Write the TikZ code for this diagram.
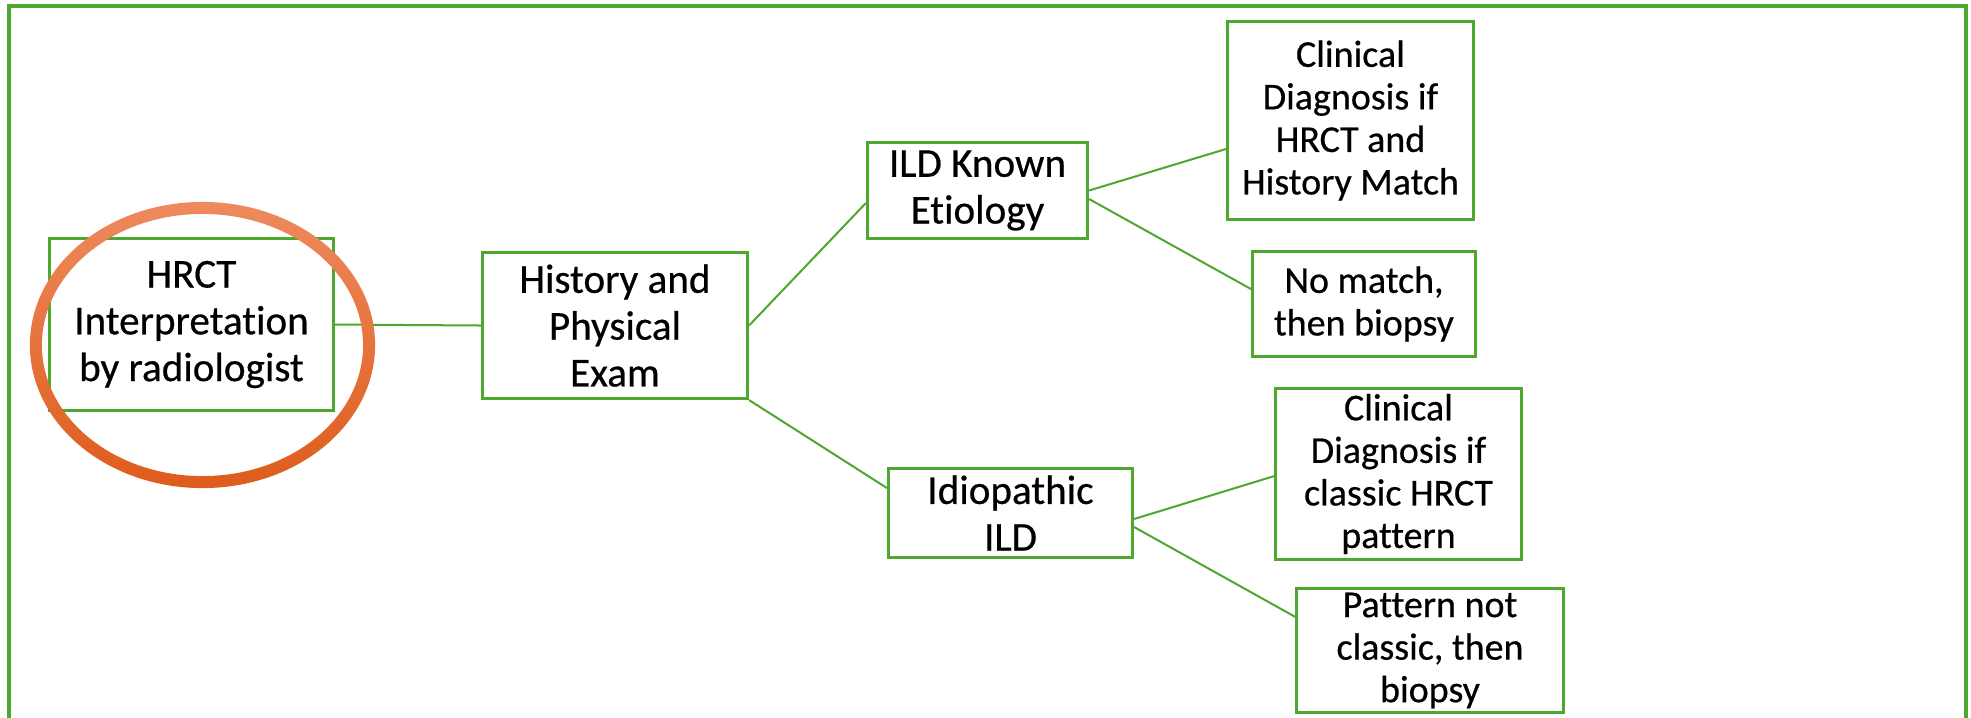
\documentclass[tikz,border=0pt]{standalone}
\usepackage{fontspec}
\setmainfont{Carlito}[Ligatures={NoCommon,NoRare},FakeBold=0.5]
\usetikzlibrary{calc}
\definecolor{grn}{HTML}{4EA72E}
\definecolor{ellTop}{RGB}{238,138,94}
\definecolor{ellMid}{RGB}{240,112,42}
\definecolor{ellBot}{RGB}{222,92,28}
\begin{document}
\begin{tikzpicture}[x=0.01cm,y=-0.01cm,
  box/.style={draw=grn, line width=0.85pt, inner sep=0pt, align=center, text=black},
  bigtxt/.style={font=\fontsize{11.7}{13.3}\selectfont},
  smalltxt/.style={font=\fontsize{10.8}{12.1}\selectfont},
  link/.style={draw=grn, line width=0.57pt}]
\useasboundingbox (0,0) rectangle (1971,717);
\fill[white] (0,0) rectangle (1971,717);
\draw[grn, line width=0.95pt] (9,725) -- (9,6) -- (1966,6) -- (1966,725);

\node[box,bigtxt,minimum width=2.84cm,minimum height=1.72cm] (hrct) at (191.5,324.5) {HRCT\\Interpretation\\by radiologist};
\node[box,bigtxt,minimum width=2.65cm,minimum height=1.46cm] (hist) at (615,325.5) {History and\\Physical\\Exam};
\node[box,bigtxt,minimum width=2.20cm,minimum height=0.96cm] (known) at (977.5,190.5) {ILD Known\\Etiology};
\node[box,bigtxt,minimum width=2.44cm,minimum height=0.89cm] (idio) at (1010.5,513) {Idiopathic\\ILD};
\node[box,smalltxt,minimum width=2.46cm,minimum height=1.98cm] (cd1) at (1350.5,120.5) {Clinical\\Diagnosis if\\HRCT and\\History Match};
\node[box,smalltxt,minimum width=2.23cm,minimum height=1.04cm] (nomatch) at (1364,304) {No match,\\then biopsy};
\node[box,smalltxt,minimum width=2.45cm,minimum height=1.71cm] (cd2) at (1398.5,474) {Clinical\\Diagnosis if\\classic HRCT\\pattern};
\node[box,smalltxt,minimum width=2.66cm,minimum height=1.23cm] (pattern) at (1430,650.5) {Pattern not\\classic, then\\biopsy};

\draw[link] (hrct.east) -- (hist.west);
\draw[link] (hist.east) -- ($(known.west)+(0,12.5)$);
\draw[link] (hist.south east) -- ($(idio.west)+(0,-25)$);
\draw[link] (known.east) -- ($(cd1.west)+(0,28.5)$);
\draw[link] ($(known.east)+(0,8.5)$) -- ($(nomatch.west)+(0,-15)$);
\draw[link] ($(idio.east)+(0,6)$) -- ($(cd2.west)+(0,2)$);
\draw[link] ($(idio.east)+(0,14)$) -- ($(pattern.west)+(0,-33.5)$);

\shade[top color=ellTop, middle color=ellMid, bottom color=ellBot, even odd rule]
  (202.5,345) ellipse [x radius=1.725cm, y radius=1.43cm]
  (202.5,345) ellipse [x radius=1.605cm, y radius=1.31cm];
\end{tikzpicture}
\end{document}
